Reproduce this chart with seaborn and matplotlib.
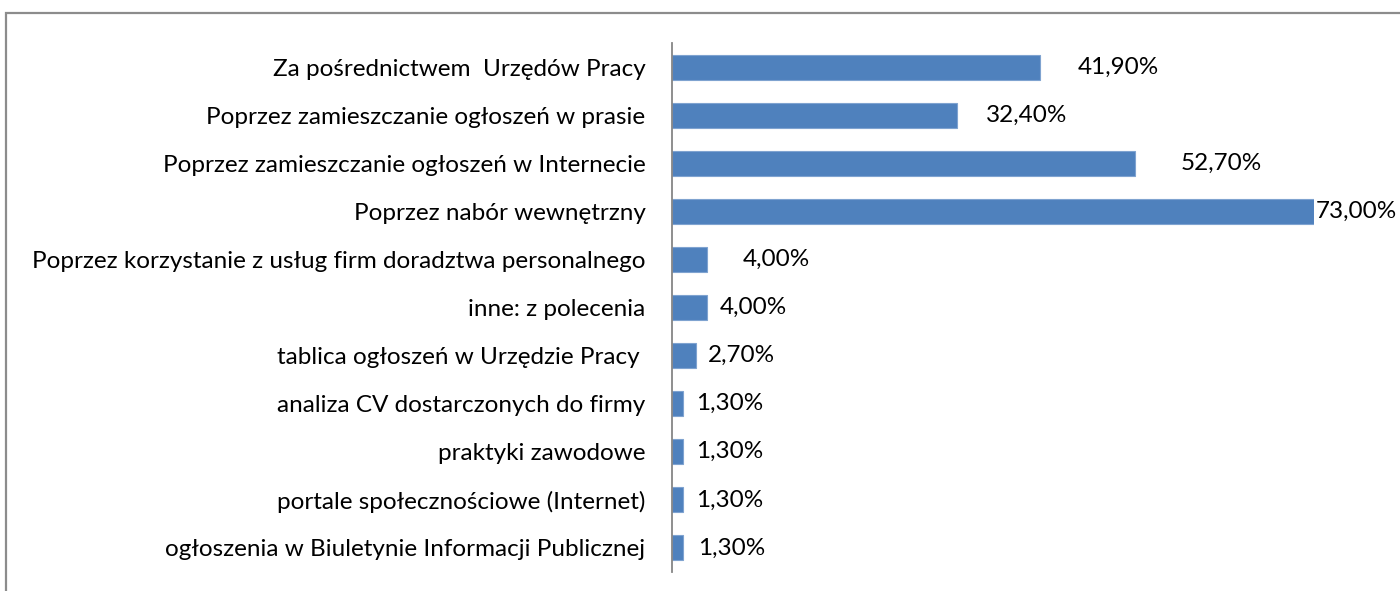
"""Sposoby rekrutacji pracowników — wykres słupkowy poziomy."""

import matplotlib.pyplot as plt
import pandas as pd
import seaborn as sns
from matplotlib.patches import Rectangle

CATEGORIES = [
    "Za pośrednictwem  Urzędów Pracy",
    "Poprzez zamieszczanie ogłoszeń w prasie",
    "Poprzez zamieszczanie ogłoszeń w Internecie",
    "Poprzez nabór wewnętrzny",
    "Poprzez korzystanie z usług firm doradztwa personalnego",
    "inne: z polecenia",
    "tablica ogłoszeń w Urzędzie Pracy ",
    "analiza CV dostarczonych do firmy",
    "praktyki zawodowe",
    "portale społecznościowe (Internet)",
    "ogłoszenia w Biuletynie Informacji Publicznej",
]
VALUES = [41.9, 32.4, 52.7, 73.0, 4.0, 4.0, 2.7, 1.3, 1.3, 1.3, 1.3]
VALUE_LABELS = ["41,90%", "32,40%", "52,70%", "73,00%", "4,00%", "4,00%",
                "2,70%", "1,30%", "1,30%", "1,30%", "1,30%"]

# przesunięcia etykiet (piksele) — w oryginale ustawione ręcznie
LABEL_SHIFT_PX = [37, 29, 45, 2, 36, 13, 12, 13, 13, 13, 15]

BAR_COLOR = "#4F81BD"
FONT = ["Lato", "DejaVu Sans"]
FONT_SIZE = 17.5


def main() -> None:
    df = pd.DataFrame({"kategoria": CATEGORIES, "wartosc": VALUES})

    sns.set_theme(style="white")
    plt.rcParams["font.family"] = FONT

    fig = plt.figure(figsize=(14, 5.91), dpi=100)
    ax = fig.add_axes([672 / 1400, 1 - 572 / 591, 642 / 1400, 529 / 591])

    sns.barplot(data=df, x="wartosc", y="kategoria", orient="h",
                color=BAR_COLOR, width=0.52, saturation=1,
                edgecolor="#7FA3D0", linewidth=0.8, ax=ax)

    ax.set_xlim(0, 73)
    ax.set_ylim(len(CATEGORIES) - 0.5, -0.5)
    ax.set_xlabel("")
    ax.set_ylabel("")
    ax.set_xticks([])
    ax.tick_params(axis="y", length=0, pad=19, labelsize=FONT_SIZE, labelcolor="black")

    for side in ["top", "right", "bottom"]:
        ax.spines[side].set_visible(False)
    ax.spines["left"].set_color("#868686")
    ax.spines["left"].set_linewidth(1.3)

    for i, (val, lab, dx) in enumerate(zip(VALUES, VALUE_LABELS, LABEL_SHIFT_PX)):
        ax.annotate(lab, xy=(val, i), xytext=(dx, 0), textcoords="offset pixels",
                    ha="left", va="center", fontsize=FONT_SIZE, color="black",
                    annotation_clip=False)

    frame = Rectangle((6 / 1400, -0.05), 1.1, 1 - 13 / 591 + 0.05,
                      transform=fig.transFigure, fill=False,
                      edgecolor="#8C8C8C", linewidth=1.6, clip_on=False)
    fig.patches.append(frame)

    fig.savefig("out.png", dpi=100, facecolor="white")
    plt.close(fig)


if __name__ == "__main__":
    main()
